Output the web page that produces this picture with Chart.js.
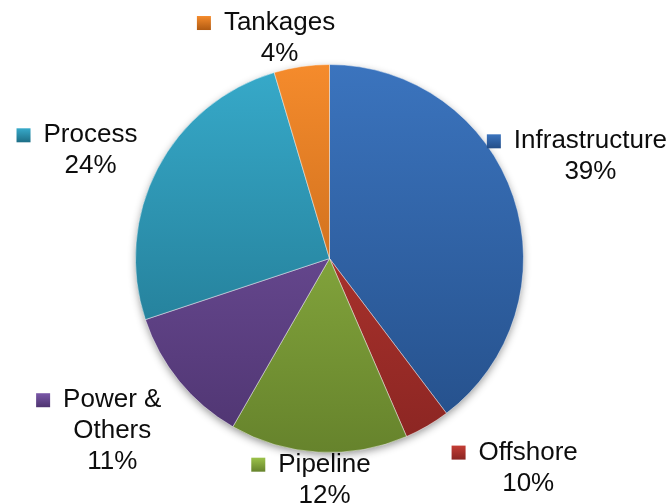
<!DOCTYPE html>
<html>
<head>
<meta charset="utf-8">
<script src="https://cdn.jsdelivr.net/npm/chart.js@4/dist/chart.umd.min.js"></script>
<style>
  html, body { margin: 0; padding: 0; background: #fff; }
  canvas { display: block; }
</style>
</head>
<body>
<canvas id="chart" width="672" height="503"></canvas>
<script>
'use strict';

// categories, clockwise from 12 o'clock
const categories = ['Infrastructure', 'Offshore', 'Pipeline', 'Power & Others', 'Process', 'Tankages'];
// slice sizes as drawn
const sliceValues = [39.7, 3.8, 14.8, 11.6, 25.5, 4.6];
// percentage text as printed on the labels
const percentLabels = ['39%', '10%', '12%', '11%', '24%', '4%'];
// label text lines (name may wrap)
const nameLines = [['Infrastructure'], ['Offshore'], ['Pipeline'], ['Power &', 'Others'], ['Process'], ['Tankages']];

const lightColors = ['#3B74BE', '#C43D35', '#9CC24A', '#7A58A8', '#37AACA', '#F58B2C'];
const darkColors  = ['#244E88', '#8A2522', '#66832C', '#4E3470', '#1D6E86', '#B05A12'];

// where each label block sits relative to the slice's outer mid point
const labelOffsets = [[77, -40], [101, 42], [6, 28], [-67, 50], [-67, -18], [-22, -28]];

function grad(chart, i) {
  const area = chart.chartArea;
  if (!area) return lightColors[i];
  const g = chart.ctx.createLinearGradient(0, area.top, 0, area.bottom);
  g.addColorStop(0, lightColors[i]);
  g.addColorStop(1, darkColors[i]);
  return g;
}

const pieShadow = {
  id: 'pieShadow',
  beforeDatasetsDraw(chart) {
    const arc = chart.getDatasetMeta(0).data[0];
    if (!arc) return;
    const ctx = chart.ctx;
    ctx.save();
    ctx.shadowColor = 'rgba(0,0,0,0.45)';
    ctx.shadowBlur = 9;
    ctx.shadowOffsetY = 3;
    ctx.fillStyle = '#888';
    ctx.beginPath();
    ctx.arc(arc.x, arc.y, arc.outerRadius - 1, 0, Math.PI * 2);
    ctx.fill();
    ctx.restore();
  }
};

const outsideLabels = {
  id: 'outsideLabels',
  afterDatasetsDraw(chart) {
    const ctx = chart.ctx;
    const lh = 31;
    const box = 14;
    ctx.save();
    ctx.font = '26px "Liberation Sans", Arial, sans-serif';
    ctx.fillStyle = '#0d0d0d';
    ctx.textAlign = 'center';
    ctx.textBaseline = 'middle';
    chart.getDatasetMeta(0).data.forEach((arc, i) => {
      const mid = (arc.startAngle + arc.endAngle) / 2;
      const ex = arc.x + Math.cos(mid) * arc.outerRadius;
      const ey = arc.y + Math.sin(mid) * arc.outerRadius;
      const cx = ex + labelOffsets[i][0];
      const cy = ey + labelOffsets[i][1];
      const lines = nameLines[i].concat([percentLabels[i]]);
      const y0 = cy - (lines.length - 1) * lh / 2;
      lines.forEach((t, j) => ctx.fillText(t, cx, y0 + j * lh));
      // legend key
      const left = cx - ctx.measureText(lines[0]).width / 2;
      const bx = left - 13 - box;
      const by = y0 - box / 2;
      const g = ctx.createLinearGradient(0, by, 0, by + box);
      g.addColorStop(0, lightColors[i]);
      g.addColorStop(1, darkColors[i]);
      ctx.fillStyle = g;
      ctx.fillRect(bx, by, box, box);
      ctx.fillStyle = '#0d0d0d';
    });
    ctx.restore();
  }
};

new Chart('chart', {
  type: 'pie',
  data: {
    labels: categories,
    datasets: [{
      data: sliceValues,
      backgroundColor: c => grad(c.chart, c.dataIndex),
      borderColor: 'rgba(255,255,255,0.45)',
      borderWidth: 1
    }]
  },
  options: {
    responsive: false,
    animation: false,
    events: [],
    layout: { padding: { left: 135, right: 148, top: 64, bottom: 50 } },
    plugins: {
      legend: { display: false },
      tooltip: { enabled: false }
    }
  },
  plugins: [pieShadow, outsideLabels]
});
</script>
</body>
</html>
